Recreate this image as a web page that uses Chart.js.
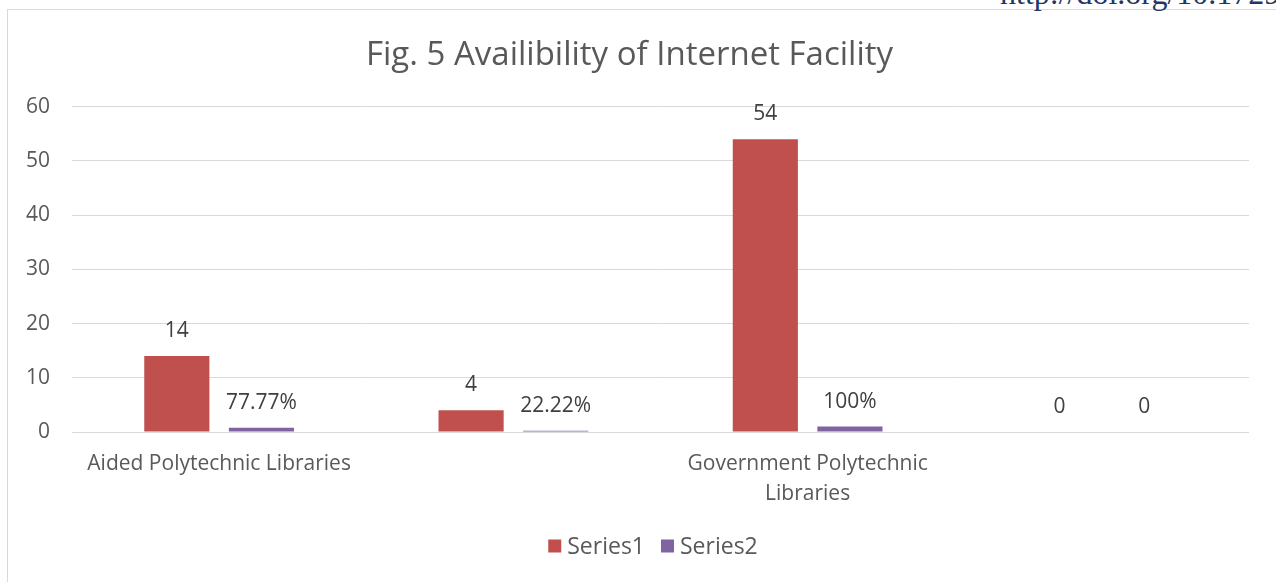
<!DOCTYPE html>
<html>
<head>
<meta charset="utf-8">
<script src="https://cdn.jsdelivr.net/npm/chart.js@4.4.1/dist/chart.umd.min.js"></script>
<style>
  html, body { margin: 0; padding: 0; width: 1276px; height: 582px; overflow: hidden; background: #fff; }
  #frame { position: absolute; left: 7px; top: 9px; width: 1300px; height: 600px; border: 1px solid #D9D9D9; box-sizing: border-box; }
  #doi { position: absolute; left: 1000px; top: -23px; font-family: "Liberation Serif", "DejaVu Serif", serif; font-size: 32px; line-height: 32px; color: #1F3864; white-space: nowrap; }
  #wrap { position: absolute; left: 0; top: 0; width: 1276px; height: 582px; }
</style>
</head>
<body>
<div id="frame"></div>
<div id="doi">http://doi.org/10.17295/</div>
<div id="wrap"><canvas id="c" width="1276" height="582"></canvas></div>
<script>
const categories = [["Aided Polytechnic Libraries"], [""], ["Government Polytechnic", "Libraries"], [""]];
const seriesNames = ["Series1", "Series2"];
const series1 = [14, 4, 54, 0];
const series2 = [0.7777, 0.2222, 1, 0];
const series1Labels = ["14", "4", "54", "0"];
const series2Labels = ["77.77%", "22.22%", "100%", "0"];
const yTicks = [0, 10, 20, 30, 40, 50, 60];

const FONT = "'Open Sans', 'Noto Sans', sans-serif";
const TEXT = "#595959";

const dataLabels = {
  id: 'dataLabels',
  afterDatasetsDraw(chart) {
    const ctx = chart.ctx;
    const labelSets = [series1Labels, series2Labels];
    ctx.save();
    ctx.font = "21px " + FONT;
    ctx.fillStyle = "#404040";
    ctx.textAlign = "center";
    ctx.textBaseline = "middle";
    chart.data.datasets.forEach((ds, i) => {
      const meta = chart.getDatasetMeta(i);
      meta.data.forEach((bar, j) => {
        ctx.fillText(labelSets[i][j], bar.x, bar.y - 25);
      });
    });
    ctx.restore();
  }
};

const bottomLegend = {
  id: 'bottomLegend',
  afterDraw(chart) {
    const ctx = chart.ctx;
    const box = 13, gap = 6, itemGap = 16, centerX = 653, centerY = 546;
    ctx.save();
    ctx.font = "23px " + FONT;
    ctx.textBaseline = "middle";
    ctx.textAlign = "left";
    const items = chart.data.datasets.map(ds => ({ label: ds.label, color: ds.backgroundColor, w: box + gap + ctx.measureText(ds.label).width }));
    const total = items.reduce((s, it) => s + it.w, 0) + itemGap * (items.length - 1);
    let x = centerX - total / 2;
    items.forEach(it => {
      ctx.fillStyle = it.color;
      ctx.fillRect(x, centerY - box / 2, box, box);
      ctx.fillStyle = TEXT;
      ctx.fillText(it.label, x + box + gap, centerY + 1);
      x += it.w + itemGap;
    });
    ctx.restore();
  }
};

new Chart(document.getElementById('c'), {
  type: 'bar',
  data: {
    labels: categories,
    datasets: [
      { label: seriesNames[0], data: series1, backgroundColor: "#C0504D", categoryPercentage: 0.575, barPercentage: 0.77 },
      { label: seriesNames[1], data: series2, backgroundColor: "#8064A2", categoryPercentage: 0.575, barPercentage: 0.77 }
    ]
  },
  options: {
    responsive: false,
    animation: false,
    devicePixelRatio: 1,
    layout: { padding: { left: 10, right: 27, top: 36, bottom: 62 } },
    plugins: {
      title: {
        display: true,
        text: "Fig. 5 Availibility of Internet Facility",
        color: TEXT,
        font: { family: FONT, size: 33, weight: 'normal' },
        padding: { top: 0, bottom: 31 }
      },
      legend: { display: false },
      tooltip: { enabled: false }
    },
    scales: {
      x: {
        grid: { display: false },
        border: { display: false },
        ticks: {
          color: TEXT,
          font: { family: FONT, size: 21, lineHeight: 1.43 },
          maxRotation: 0,
          autoSkip: false,
          padding: 9
        },
        afterFit(scale) { scale.height = 88; }
      },
      y: {
        min: 0,
        max: 60,
        afterBuildTicks(scale) { scale.ticks = yTicks.map(v => ({ value: v })); },
        grid: { color: "#D9D9D9", drawTicks: false, lineWidth: 1 },
        border: { display: false },
        ticks: {
          color: TEXT,
          font: { family: FONT, size: 21 },
          padding: 22
        },
        afterFit(scale) { scale.width = 62; }
      }
    }
  },
  plugins: [dataLabels, bottomLegend]
});
</script>
</body>
</html>
